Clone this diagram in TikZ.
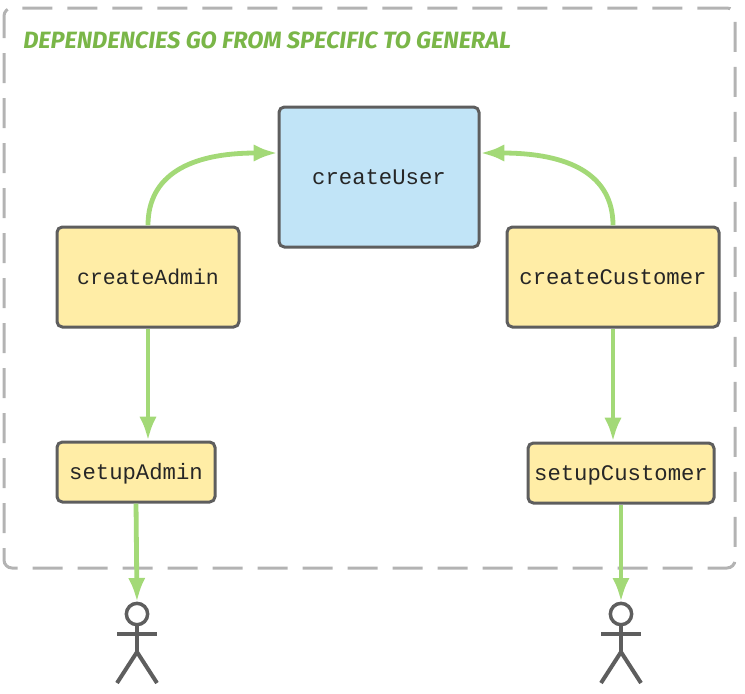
\documentclass[tikz,border=0pt]{standalone}
\usepackage{fontspec}
\setmonofont{Liberation Mono}
\newfontfamily\titlefont[ItalicFont={Fira Sans Bold Italic}]{Fira Sans Bold}
\usetikzlibrary{arrows.meta}
\definecolor{frameGray}{HTML}{B3B3B3}
\definecolor{edgeGray}{HTML}{5E5E5E}
\definecolor{userBlue}{HTML}{C1E4F7}
\definecolor{taskYellow}{HTML}{FFEDA6}
\definecolor{arrowGreen}{HTML}{A3D977}
\definecolor{titleGreen}{HTML}{7AB648}
\begin{document}
\begin{tikzpicture}[
    x = 0.75pt,
    y = -0.75pt,
    >={Latex[length=18pt,width=13pt]},
    frame/.style = {draw=frameGray, line width=2.25pt, rounded corners=6pt,
    dash pattern=on 22.5pt off 11.25pt, dash phase=0.3pt, inner sep=0pt,
    minimum width=548.25pt, minimum height=420pt},
    task/.style = {draw=edgeGray, fill=taskYellow, line width=2.25pt, rounded corners=4pt,
    inner sep=0pt, outer sep=0pt, text height=10.5pt, text depth=0pt,
    font=\ttfamily\fontsize{16.7}{18}\selectfont, text=black!85},
    user/.style = {task, fill=userBlue},
    flow/.style = {->, draw=arrowGreen, line width=3.6pt, shorten >=1pt, shorten <=1.2pt},
    head/.style = {circle, draw=edgeGray, line width=2.6pt, fill=white,
    minimum size=16pt, inner sep=0pt, outer sep=0pt},
    limb/.style = {draw=edgeGray, line width=3pt},
]

\useasboundingbox (0,0) rectangle (745,693);

\node[frame] (frame) at (369.5,288){};
\node[anchor=west, inner sep=0pt, text=titleGreen, font=\titlefont\itshape\fontsize{17.7}{19}\selectfont] (title) at (23,40){DEPENDENCIES GO FROM SPECIFIC TO GENERAL};

\node[user, minimum width=150pt, minimum height=105pt] (createUser) at (379,177){createUser};
\node[task, minimum width=136.5pt, minimum height=75pt, font=\ttfamily\fontsize{16.1}{18}\selectfont] (createAdmin) at (148,277){createAdmin};
\node[task, minimum width=159pt, minimum height=75pt] (createCustomer) at (613,277){createCustomer};
\node[task, minimum width=118.5pt, minimum height=45pt] (setupAdmin) at (136,472){setupAdmin};
\node[task, minimum width=139.5pt, minimum height=45pt] (setupCustomer) at (621,473){setupCustomer};

% actors
\node[head] (headAdmin) at (137,614){};
\coordinate (armAdminL) at (117,634);
\coordinate (armAdminR) at (157,634);
\coordinate (hipAdmin) at (137,652);
\coordinate (legAdminL) at (117,683);
\coordinate (legAdminR) at (157,683);
\draw [limb] (headAdmin) -- (hipAdmin);
\draw [limb] (armAdminL) -- (armAdminR);
\draw [limb] (legAdminL) -- (hipAdmin) -- (legAdminR);

\node[head] (headCustomer) at (621,614){};
\coordinate (armCustomerL) at (601,634);
\coordinate (armCustomerR) at (641,634);
\coordinate (hipCustomer) at (621,652);
\coordinate (legCustomerL) at (601,683);
\coordinate (legCustomerR) at (641,683);
\draw [limb] (headCustomer) -- (hipCustomer);
\draw [limb] (armCustomerL) -- (armCustomerR);
\draw [limb] (legCustomerL) -- (hipCustomer) -- (legCustomerR);

\coordinate (userLeft) at (279,153);
\coordinate (userRight) at (479,153);

\draw [flow] (createAdmin.north) .. controls (148,175) and (190,153) .. (userLeft);
\draw [flow] (createCustomer.north) .. controls (613,175) and (570,153) .. (userRight);
\draw [flow] (createAdmin.south) -- (setupAdmin.north -| createAdmin.south);
\draw [flow] (createCustomer.south) -- (setupCustomer.north -| createCustomer.south);
\draw [flow] (setupAdmin.south) -- (headAdmin.north);
\draw [flow] (setupCustomer.south) -- (headCustomer.north);

\end{tikzpicture}
\end{document}
